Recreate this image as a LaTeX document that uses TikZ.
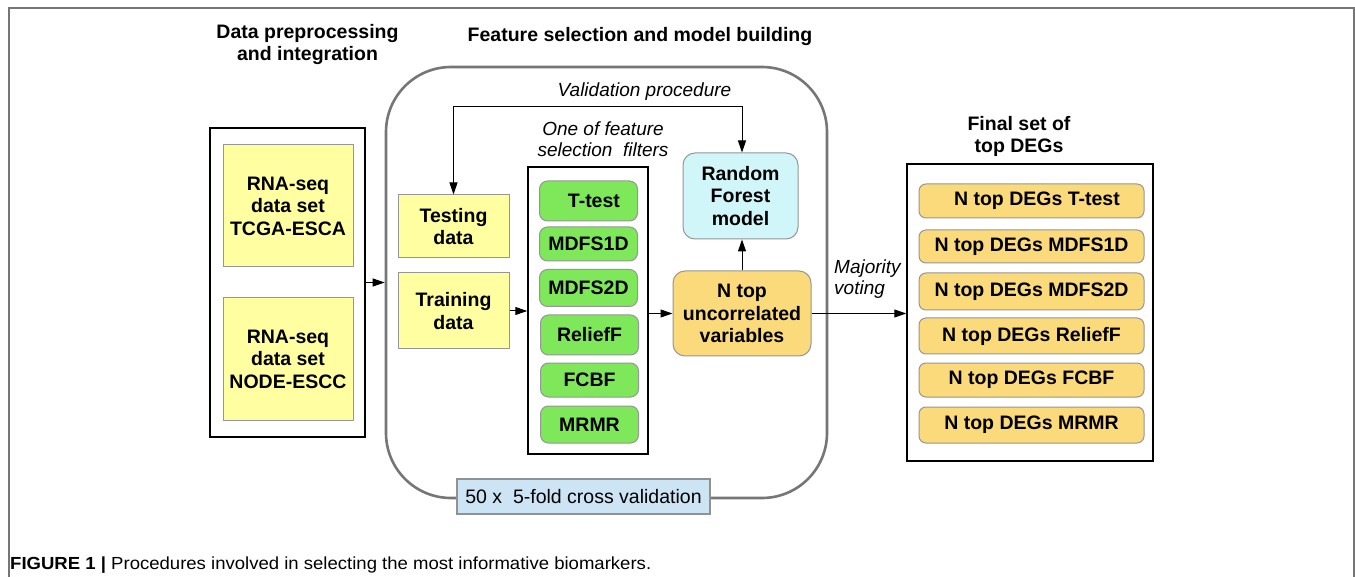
\documentclass[tikz,border=0pt]{standalone}
\usepackage{fontspec}
\setmainfont{Liberation Sans}
\usetikzlibrary{arrows.meta}
\definecolor{yel}{RGB}{255,255,162}
\definecolor{grn}{RGB}{126,232,90}
\definecolor{cyn}{RGB}{208,246,250}
\definecolor{gld}{RGB}{250,218,122}
\definecolor{cvb}{RGB}{205,228,245}
\definecolor{bord}{RGB}{150,150,150}
\definecolor{frm}{RGB}{118,118,118}
\begin{document}
\begin{tikzpicture}[x=1pt,y=-1pt,
  lab/.style={font=\fontsize{19.5}{22.5}\selectfont\bfseries, align=center, inner sep=0pt},
  ital/.style={font=\fontsize{19}{21}\selectfont\itshape, align=center, inner sep=0pt},
  ttl/.style={font=\fontsize{19.5}{22}\selectfont\bfseries, align=center, inner sep=0pt, anchor=base},
  ybox/.style={lab, draw=bord, fill=yel, line width=1pt},
  gbox/.style={lab, draw=bord, fill=grn, line width=1pt, rounded corners=8pt, minimum width=98pt},
  obox/.style={lab, draw=bord, fill=gld, line width=1pt, rounded corners=7pt, minimum width=225pt},
  blk/.style={draw=black, line width=1.5pt, inner sep=0pt},
  arr/.style={line width=1pt, -{Triangle[length=12pt,width=8pt]}}
]
\useasboundingbox (0,0) rectangle (1355,577);
\fill[white] (0,0) rectangle (1355,577);
\draw[frm, line width=1.6pt] (9,577) -- (9,8) -- (1354,8) -- (1354,577);

% titles (base anchor = baseline of last line)
\node[ttl] (t1) at (307.5,61) {Data preprocessing\\and integration};
\node[ttl] (t2) at (640,42) {Feature selection and model building};
\node[ttl] (t3) at (1019,153) {Final set of\\top DEGs};

% left block
\node[blk, minimum width=155pt, minimum height=309pt] (left) at (287.5,282.5) {};
\node[ybox, minimum width=130pt, minimum height=122pt] (tcga) at (288,206) {RNA-seq\\data set\\TCGA-ESCA};
\node[ybox, minimum width=130pt, minimum height=122pt] (node) at (288,359) {RNA-seq\\data set\\NODE-ESCC};

% big rounded frame
\node[draw=frm, line width=2.6pt, rounded corners=65pt, minimum width=441pt, minimum height=431pt, inner sep=0pt] (big) at (606.5,282.5) {};
\node[draw=frm!80, line width=2pt, fill=cvb, minimum width=253pt, minimum height=35pt, inner sep=0pt, font=\fontsize{19.5}{22}\selectfont] (cv) at (583.5,496.5) {50 x\ \ 5-fold cross validation};

\node[ybox, minimum width=111pt, minimum height=63pt] (test) at (453.5,226.5) {Testing\\data};
\node[ybox, minimum width=111pt, minimum height=76pt] (train) at (453.5,311) {Training\\data};

\node[ital, anchor=base] (ofs) at (603,157) {One of feature\\selection\ \ filters};
\node[blk, minimum width=120pt, minimum height=287pt] (filt) at (588,310.5) {};
\node[gbox, minimum height=40pt] (g1) at (588.5,201) {\ \ T-test};
\node[gbox, minimum height=34pt] (g2) at (588.5,244) {MDFS1D};
\node[gbox, minimum height=37pt] (g3) at (588.5,288) {MDFS2D};
\node[gbox, minimum height=40pt] (g4) at (589.5,335) {ReliefF};
\node[gbox, minimum height=34pt] (g5) at (589.5,380) {FCBF};
\node[gbox, minimum height=37pt] (g6) at (589.5,424.5) {MRMR};

\node[lab, draw=bord, fill=cyn, line width=1pt, rounded corners=12pt, minimum width=115pt, minimum height=86pt] (rf) at (740.5,196) {Random\\Forest\\model};
\node[lab, draw=bord, fill=gld, line width=1pt, rounded corners=12pt, minimum width=138pt, minimum height=85pt] (ntop) at (742,313.5) {N top\\uncorrelated\\variables};

\node[ital, anchor=base] (vp) at (644.5,97) {Validation procedure};
\coordinate (vl) at (453.5,107);
\coordinate (vr) at (742,107);

% final set
\node[blk, minimum width=246pt, minimum height=297pt] (fin) at (1030,312.5) {};
\node[obox, minimum height=34pt] (f1) at (1031.5,201) {\ \ N top DEGs T-test};
\node[obox, minimum height=33pt] (f2) at (1031.5,246.5) {N top DEGs MDFS1D};
\node[obox, minimum height=37pt] (f3) at (1031.5,291.5) {N top DEGs MDFS2D};
\node[obox, minimum height=36pt] (f4) at (1031.5,336) {N top DEGs ReliefF};
\node[obox, minimum height=34pt] (f5) at (1031.5,380) {N top DEGs FCBF};
\node[obox, minimum height=36pt] (f6) at (1031.5,425) {N top DEGs MRMR};

\node[ital, align=left, anchor=base west] (mv) at (834,295) {Majority\\voting};

% connectors
\draw[arr] (left.east) -- (big.west);
\draw[arr] (train.east) -- (filt.west |- train.east);
\draw[arr] (filt.east |- ntop.west) -- (ntop.west);
\draw[arr] (ntop.north) -- (ntop.north |- rf.south);
\draw[arr] (ntop.east) -- (fin.west |- ntop.east);
\draw[line width=1pt, {Triangle[length=12pt,width=8pt]}-{Triangle[length=12pt,width=8pt]}] (test.north) -- (vl) -- (vr) -- (rf.north -| vr);

% caption
\node[anchor=base west, inner sep=0pt, font=\fontsize{17.5}{20}\selectfont] (cap) at (10,569) {\resizebox{641pt}{\height}{\textbf{FIGURE 1 |} Procedures involved in selecting the most informative biomarkers.}};
\end{tikzpicture}
\end{document}
